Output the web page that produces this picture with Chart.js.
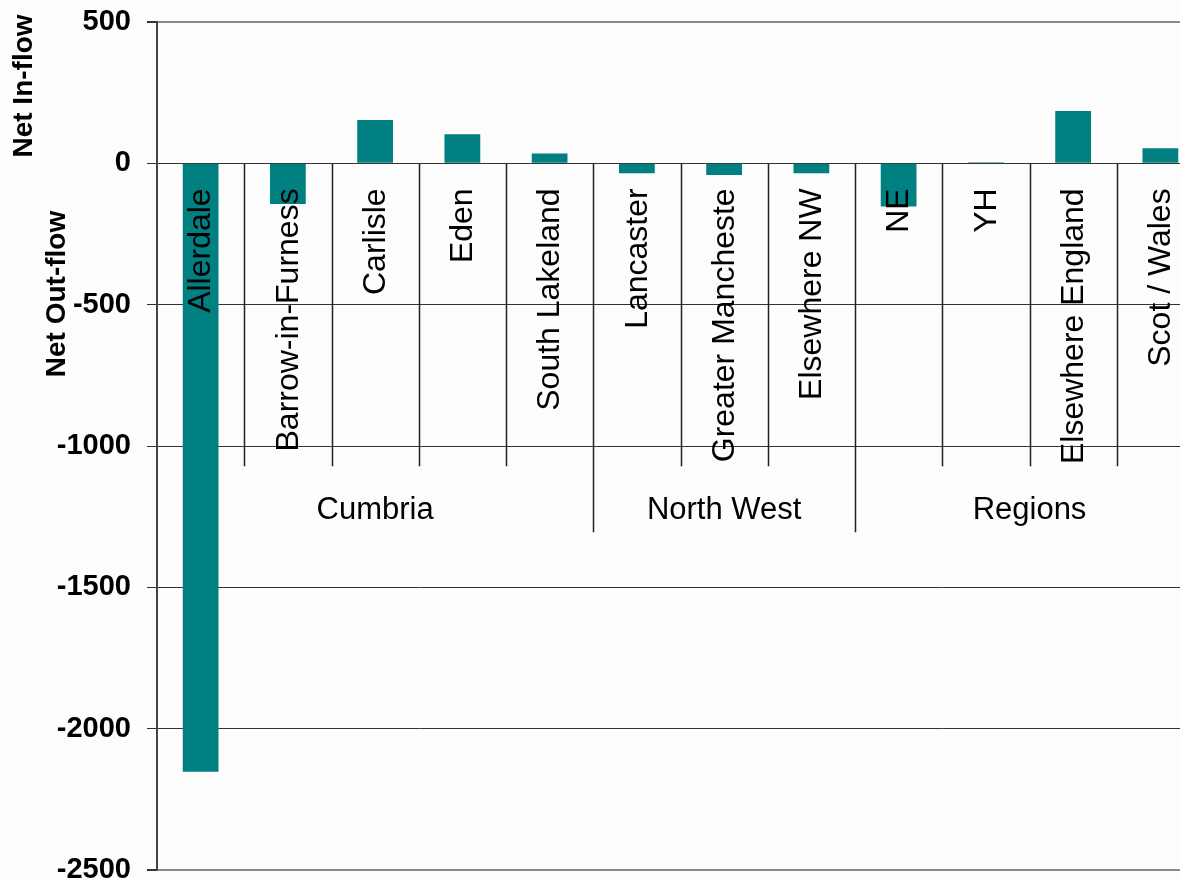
<!DOCTYPE html>
<html>
<head>
<meta charset="utf-8">
<script src="https://cdn.jsdelivr.net/npm/chart.js@4/dist/chart.umd.min.js"></script>
<style>
  html, body { margin: 0; padding: 0; background: #fdfdfd; overflow: hidden; }
  #wrap { position: absolute; left: 0; top: 0; width: 1215px; height: 900px; }
  canvas { display: block; }
</style>
</head>
<body>
<div id="wrap"><canvas id="c" width="1215" height="900"></canvas></div>
<script>
const categories = ['Allerdale', 'Barrow-in-Furness', 'Carlisle', 'Eden', 'South Lakeland',
  'Lancaster', 'Greater Mancheste', 'Elsewhere NW',
  'NE', 'YH', 'Elsewhere England', 'Scot / Wales'];
const netFlow = [-2152, -144, 153, 103, 35, -35, -41, -35, -153, 4, 185, 53];
const groupNames = ['Cumbria', 'North West', 'Regions'];
const groupStarts = [0, 5, 8];
const groupEnds = [4, 7, 11];
const yTicks = [-2500, -2000, -1500, -1000, -500, 0, 500];
const yTitleIn = 'Net In-flow';
const yTitleOut = 'Net Out-flow';

const FONT = '"Liberation Sans", Arial, sans-serif';

const overlay = {
  id: 'overlay',
  afterDatasetsDraw(chart) {
    const ctx = chart.ctx;
    const xs = chart.scales.x, ys = chart.scales.y;
    const y0 = ys.getPixelForValue(0);
    const step = xs.getPixelForValue(1) - xs.getPixelForValue(0);
    ctx.save();
    // separators
    ctx.strokeStyle = '#222';
    ctx.lineWidth = 1.5;
    for (let i = 1; i < categories.length; i++) {
      const bx = Math.round(xs.getPixelForValue(i) - step / 2) + 0.5;
      const isGroup = groupStarts.includes(i);
      ctx.beginPath();
      ctx.moveTo(bx, y0);
      ctx.lineTo(bx, y0 + (isGroup ? 369 : 303));
      ctx.stroke();
    }
    // category labels
    ctx.fillStyle = '#000';
    ctx.font = 'normal 32px ' + FONT;
    ctx.textAlign = 'right';
    ctx.textBaseline = 'middle';
    categories.forEach((c, i) => {
      const cx = xs.getPixelForValue(i);
      ctx.save();
      ctx.translate(cx + 1, y0 + 25);
      ctx.rotate(-Math.PI / 2);
      ctx.fillText(c, 0, 0);
      ctx.restore();
    });
    // group labels
    ctx.textAlign = 'center';
    ctx.font = 'normal 31px ' + FONT;
    groupNames.forEach((g, k) => {
      const a = xs.getPixelForValue(groupStarts[k]) - step / 2;
      const b = xs.getPixelForValue(groupEnds[k]) + step / 2;
      ctx.fillText(g, (a + b) / 2, y0 + 347);
    });
    // axis titles
    ctx.font = 'bold 28px ' + FONT;
    ctx.save();
    ctx.translate(24, 86);
    ctx.rotate(-Math.PI / 2);
    ctx.fillText(yTitleIn, 0, 0);
    ctx.restore();
    ctx.save();
    ctx.translate(57, 294);
    ctx.rotate(-Math.PI / 2);
    ctx.fillText(yTitleOut, 0, 0);
    ctx.restore();
    ctx.restore();
  }
};

new Chart(document.getElementById('c'), {
  type: 'bar',
  data: {
    labels: categories,
    datasets: [{
      data: netFlow,
      backgroundColor: '#008080',
      borderWidth: 0,
      barPercentage: 0.41,
      categoryPercentage: 1.0
    }]
  },
  options: {
    responsive: false,
    animation: false,
    devicePixelRatio: 1,
    layout: { padding: { left: 0, top: 22, right: 11, bottom: 30 } },
    plugins: { legend: { display: false }, tooltip: { enabled: false }, title: { display: false } },
    scales: {
      x: { display: false },
      y: {
        min: Math.min(...yTicks),
        max: Math.max(...yTicks),
        afterBuildTicks(scale) { scale.ticks = yTicks.map(v => ({ value: v })); },
        afterFit(scale) { scale.width = 157; scale.paddingTop = 0; scale.paddingBottom = 0; },
        ticks: {
          color: '#000',
          font: { family: FONT, size: 29, weight: 'bold' },
          padding: 16,
          callback: v => String(v)
        },
        grid: {
          color: ctx => (ctx.tick && (ctx.tick.value === 500 || ctx.tick.value === -2500)) ? '#8a8a8a' : '#333',
          lineWidth: ctx => (ctx.tick && (ctx.tick.value === 500 || ctx.tick.value === -2500)) ? 2 : 1,
          tickColor: '#333',
          tickLength: 10,
          drawTicks: true
        },
        border: { display: true, color: '#444', width: 2 }
      }
    }
  },
  plugins: [overlay]
});
</script>
</body>
</html>
